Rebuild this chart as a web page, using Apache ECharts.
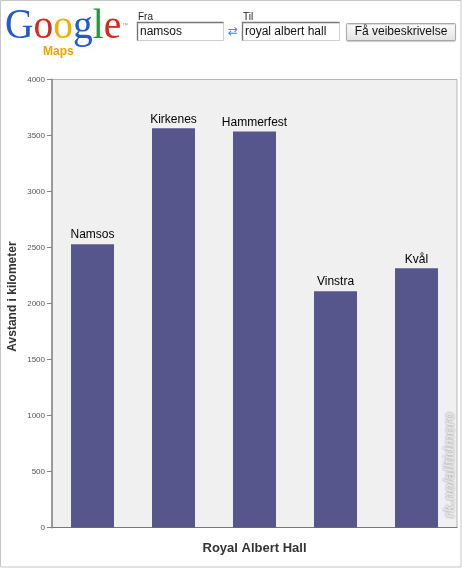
<!DOCTYPE html>
<html>
<head>
<meta charset="utf-8">
<script src="https://cdn.jsdelivr.net/npm/echarts@6/dist/echarts.min.js"></script>
<style>
html,body{margin:0;padding:0;background:#fff;}
#chart{width:462px;height:569px;}
</style>
</head>
<body>
<div id="chart"></div>
<script>
var categories = ['Namsos', 'Kirkenes', 'Hammerfest', 'Vinstra', 'Kvål'];
var distances = [2530, 3565, 3535, 2110, 2315];
var yMin = 0, yMax = 4000, yStep = 500;
var yAxisTitle = 'Avstand i kilometer';
var xAxisTitle = 'Royal Albert Hall';
var fromText = 'namsos';
var toText = 'royal albert hall';

var chart = echarts.init(document.getElementById('chart'), null, {renderer: 'canvas'});
var F = 'Liberation Sans, Arial, sans-serif';
var SERIF = '"Liberation Serif", "DejaVu Serif", serif';

chart.setOption({
  animation: false,
  backgroundColor: '#ffffff',
  grid: {
    left: 52, right: 5, top: 79.5, bottom: 41.5,
    containLabel: false,
    outerBoundsMode: 'none',
    show: true, backgroundColor: '#f0f0f0', borderColor: '#b4b4b4', borderWidth: 1
  },
  xAxis: {
    type: 'category',
    data: categories,
    name: xAxisTitle,
    nameLocation: 'middle',
    nameGap: 14,
    nameMoveOverlap: false,
    nameTextStyle: {fontFamily: F, fontWeight: 'bold', fontSize: 13, color: '#333'},
    axisLine: {show: true, lineStyle: {color: '#777', width: 1}},
    axisTick: {show: false},
    axisLabel: {show: false},
    splitLine: {show: false}
  },
  yAxis: {
    type: 'value',
    min: yMin, max: yMax, interval: yStep,
    name: yAxisTitle,
    nameLocation: 'middle',
    nameGap: 33,
    nameMoveOverlap: false,
    nameTextStyle: {fontFamily: F, fontWeight: 'bold', fontSize: 12, color: '#333', padding: [0, 0, 0, 14]},
    axisLine: {show: true, lineStyle: {color: '#999', width: 2}},
    axisTick: {show: true, length: 5, lineStyle: {color: '#888'}},
    axisLabel: {fontFamily: F, fontSize: 8, color: '#555', margin: 7,
      formatter: function (v) { return String(v); }},
    splitLine: {show: false}
  },
  series: [{
    type: 'bar',
    data: distances,
    barWidth: 43,
    itemStyle: {color: '#56568c'},
    label: {
      show: true, position: 'top', distance: 3,
      formatter: function (p) { return p.name; },
      fontFamily: F, fontSize: 12, color: '#000'
    }
  }],
  graphic: [
    {type: 'rect', shape: {x: 0.5, y: 0.5, width: 460.5, height: 566.5},
      style: {fill: 'none', stroke: '#c6c6c6', lineWidth: 1}, z: 100},
    {type: 'text', x: 5, y: 48, scaleX: 0.94,
      style: {
        text: '{b|G}{r|o}{y|o}{b|g}{g|l}{r|e}',
        font: '42px ' + SERIF,
        rich: {
          b: {fill: '#1f5bd0', font: '42px ' + SERIF},
          r: {fill: '#d3291c', font: '42px ' + SERIF},
          y: {fill: '#f0ae00', font: '42px ' + SERIF},
          g: {fill: '#1e9a36', font: '42px ' + SERIF}
        },
        verticalAlign: 'bottom'
      }},
    {type: 'text', x: 122, y: 22, style: {text: '™', font: '6px ' + F, fill: '#999'}},
    {type: 'text', x: 43, y: 52, style: {text: 'Maps', font: 'bold 12px ' + F, fill: '#f4a100', verticalAlign: 'middle'}},
    {type: 'text', x: 138, y: 17, style: {text: 'Fra', font: '10px ' + F, fill: '#222', verticalAlign: 'middle'}},
    {type: 'rect', shape: {x: 137.5, y: 22.5, width: 86, height: 18}, style: {fill: '#fff', stroke: '#cfcfcf'}},
    {type: 'polyline', shape: {points: [[137.5, 40.5], [137.5, 22.5], [223.5, 22.5]]}, style: {stroke: '#777', fill: 'none', lineWidth: 1.4}},
    {type: 'text', x: 140, y: 32, style: {text: fromText, font: '12px ' + F, fill: '#111', verticalAlign: 'middle'}},
    {type: 'text', x: 233, y: 32, style: {text: '⇄', font: '12px "DejaVu Sans", sans-serif', fill: '#3f86e0', align: 'center', verticalAlign: 'middle'}},
    {type: 'text', x: 243, y: 17, style: {text: 'Til', font: '10px ' + F, fill: '#222', verticalAlign: 'middle'}},
    {type: 'rect', shape: {x: 242.5, y: 22.5, width: 97, height: 18}, style: {fill: '#fff', stroke: '#cfcfcf'}},
    {type: 'polyline', shape: {points: [[242.5, 40.5], [242.5, 22.5], [339.5, 22.5]]}, style: {stroke: '#777', fill: 'none', lineWidth: 1.4}},
    {type: 'text', x: 245, y: 32, style: {text: toText, font: '12px ' + F, fill: '#111', verticalAlign: 'middle'}},
    {type: 'rect', shape: {x: 346.5, y: 23.5, width: 109, height: 17, r: 1},
      style: {
        fill: new echarts.graphic.LinearGradient(0, 0, 0, 1, [{offset: 0, color: '#fdfdfd'}, {offset: 1, color: '#e2e2e2'}]),
        stroke: '#a9a9a9', shadowColor: 'rgba(0,0,0,0.15)', shadowOffsetY: 1, shadowBlur: 1
      }},
    {type: 'text', x: 401, y: 32, style: {text: 'Få veibeskrivelse', font: '12px ' + F, fill: '#111', align: 'center', verticalAlign: 'middle'}},
    {type: 'text', x: 450, y: 465, rotation: Math.PI / 2,
      style: {text: 'rk.no/alltidmoro', font: 'italic bold 14px ' + F, fill: '#e6e6e6', align: 'center', verticalAlign: 'middle',
        textShadowColor: 'rgba(0,0,0,0.45)', textShadowBlur: 2}, z: 50}
  ]
});
</script>
</body>
</html>
